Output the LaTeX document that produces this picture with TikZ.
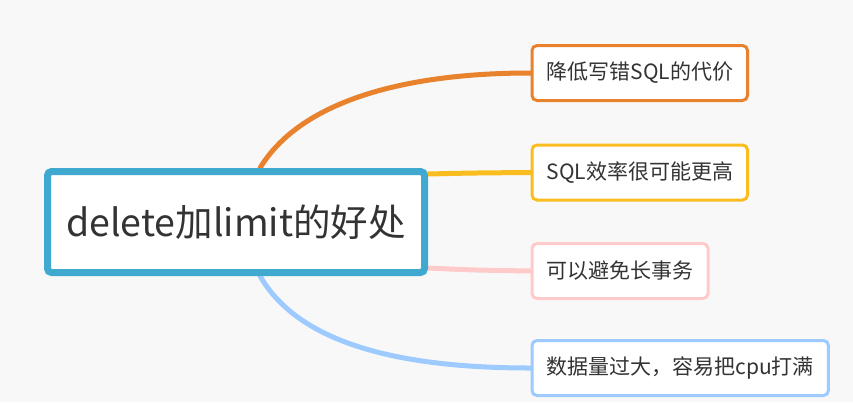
\documentclass[tikz,border=0pt]{standalone}
\usepackage{fontspec}
\setmainfont{Noto Sans CJK SC}
\usepackage{tikz}
\definecolor{bgcol}{HTML}{F8F8F8}
\definecolor{rootcol}{HTML}{3FA9D0}
\definecolor{orangecol}{HTML}{E8822D}
\definecolor{yellowcol}{HTML}{FABD20}
\definecolor{pinkcol}{HTML}{FFCACA}
\definecolor{bluecol}{HTML}{9ECBFF}
\definecolor{textcol}{HTML}{333333}
\pgfdeclarelayer{bg}
\pgfdeclarelayer{edges}
\pgfsetlayers{bg,edges,main}
\tikzset{
    rootbox/.style={
            draw=rootcol, line width=7pt, fill=white, rounded corners=4pt,
            minimum width=377pt, minimum height=101pt, text=textcol,
            font=\fontsize{37.5}{44}\selectfont
        },
    topicbox/.style={
            draw=#1, line width=3pt, fill=white, rounded corners=5pt,
            minimum height=55pt, inner xsep=14.5pt, anchor=west, text=textcol,
            font=\fontsize{21}{25}\selectfont
        },
    branch/.style={
            draw=#1, line width=5pt, line cap=round
        },
}

\begin{document}
\begin{tikzpicture}[x=1pt, y=-1pt]
        %background
        \begin{pgfonlayer}{bg}
            \fill[bgcol] (0, 0) rectangle (853, 402);
        \end{pgfonlayer}
        \useasboundingbox (0, 0) rectangle (853, 402);
        %draw central topic
        \node[rootbox] (root) at (236, 222) {delete加limit的好处};
        %draw sub topics
        \node[topicbox=orangecol] (cost) at (530.5, 73) {降低写错SQL的代价};
        \node[topicbox=yellowcol] (fast) at (530.5, 172.5) {SQL效率很可能更高};
        \node[topicbox=pinkcol] (trans) at (530.5, 271) {可以避免长事务};
        \node[topicbox=bluecol] (cpu) at (530.5, 368) {数据量过大，容易把cpu打满};
        %draw branches
        \begin{pgfonlayer}{edges}
            \draw[branch=orangecol] ([xshift=24pt]root.north) .. controls (298, 105) and (395, 73) .. (cost.west);
            \draw[branch=yellowcol] ([yshift=48pt]root.east) .. controls (470, 173) .. (fast.west);
            \draw[branch=pinkcol] ([yshift=-46pt]root.east) .. controls (470, 270) .. (trans.west);
            \draw[branch=bluecol] ([xshift=24pt]root.south) .. controls (298, 342) and (395, 368) .. (cpu.west);
        \end{pgfonlayer}
    \end{tikzpicture}
\end{document}
